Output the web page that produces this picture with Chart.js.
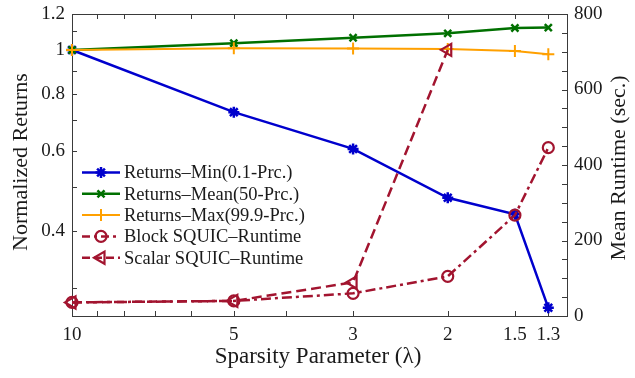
<!DOCTYPE html>
<html><head><meta charset="utf-8">
<script src="https://cdn.jsdelivr.net/npm/chart.js@4.4.0/dist/chart.umd.min.js"></script>
<style>html,body{margin:0;padding:0;background:#fff;} #wrap{width:635px;height:378px;}</style>
</head><body><div id="wrap"><canvas id="c" width="635" height="378"></canvas></div>
<script>
// ---- data ----
const lambdas = [10, 5, 3, 2, 1.5, 1.3];
const scalarLambdas = [10, 5, 3, 2];
const returnsMin = [1.0, 0.73, 0.606, 0.473, 0.435, 0.271];
const returnsMean = [1.0, 1.035, 1.064, 1.088, 1.118, 1.12];
const returnsMax = [1.0, 1.009, 1.008, 1.005, 0.995, 0.979];
const blockRuntime = [36, 40, 60, 105, 267, 446];
const scalarRuntime = [36, 40, 89, 705];
const seriesNames = ['Returns\u2013Min(0.1-Prc.)', 'Returns\u2013Mean(50-Prc.)', 'Returns\u2013Max(99.9-Prc.)', 'Block SQUIC\u2013Runtime', 'Scalar SQUIC\u2013Runtime'];
const xTickValues = [10, 9, 8, 7, 6, 5, 4, 3, 2, 1.5, 1.3];
const xTickLabels = ['10', '5', '3', '2', '1.5', '1.3'];
const yLeftTickValues = [0.3, 0.4, 0.5, 0.6, 0.7, 0.8, 0.9, 1, 1.1, 1.2];
const yLeftTickLabels = ['0.4', '0.6', '0.8', '1', '1.2'];
const yRightTickLabels = ['0', '200', '400', '600', '800'];
const xTitle = 'Sparsity Parameter (\u03bb)';
const yLeftTitle = 'Normalized Returns';
const yRightTitle = 'Mean Runtime (sec.)';

const FONT = "'Liberation Serif', 'Times New Roman', serif";
const AX = '#3a3a3a';
const TXT = '#1a1a1a';
const RED = 'rgb(162,20,47)';

function pts(xs, ys) { return xs.map((x, i) => ({x: x, y: ys[i]})); }

const datasets = [
  {label: seriesNames[0], data: pts(lambdas, returnsMin), yAxisID: 'y', borderColor: 'rgb(0,0,205)', borderWidth: 2.5,
   pointStyle: 'star', pointRadius: 5.5, pointBorderWidth: 2.5, pointBorderColor: 'rgb(0,0,205)', pointBackgroundColor: 'rgb(0,0,205)', order: 4},
  {label: seriesNames[1], data: pts(lambdas, returnsMean), yAxisID: 'y', borderColor: 'rgb(0,112,0)', borderWidth: 2.5,
   pointStyle: 'crossRot', pointRadius: 5, pointBorderWidth: 2.5, pointBorderColor: 'rgb(0,112,0)', order: 3},
  {label: seriesNames[2], data: pts(lambdas, returnsMax), yAxisID: 'y', borderColor: 'rgb(255,160,0)', borderWidth: 2,
   pointStyle: 'cross', pointRadius: 6, pointBorderWidth: 2, pointBorderColor: 'rgb(255,160,0)', order: 2},
  {label: seriesNames[3], data: pts(lambdas, blockRuntime), yAxisID: 'y2', borderColor: RED, borderWidth: 2.5, borderDash: [10, 4, 3, 4],
   pointStyle: 'circle', pointRadius: 5.5, pointBorderWidth: 2.2, pointBorderColor: RED, pointBackgroundColor: 'rgba(0,0,0,0)', order: 1},
  {label: seriesNames[4], data: pts(scalarLambdas, scalarRuntime), yAxisID: 'y2', borderColor: RED, borderWidth: 2.5, borderDash: [10, 5],
   pointStyle: 'triangle', pointRotation: -90, pointRadius: 7, pointBorderWidth: 2.2, pointBorderColor: RED, pointBackgroundColor: 'rgba(0,0,0,0)', order: 0}
];
datasets.forEach(d => { d.xAxisID = 'x'; d.tension = 0; d.fill = false; d.clip = false; });

function gridOpts() { return {drawOnChartArea: false, drawTicks: true, tickLength: 7, tickColor: 'rgba(0,0,0,0)', color: AX, lineWidth: 1}; }
function borderOpts() { return {display: true, color: AX, width: 1}; }
const tickFont = {family: FONT, size: 19};

// inward tick marks, placed with each scale's own pixel mapping
const innerTicksPlugin = {
  id: 'innerTicks',
  beforeDatasetsDraw(chart) {
    const ctx = chart.ctx, a = chart.chartArea, L = 5;
    ctx.save();
    ctx.strokeStyle = AX; ctx.lineWidth = 1;
    ctx.beginPath();
    ['x', 'x2', 'y', 'y2'].forEach(id => {
      const s = chart.scales[id];
      s.ticks.forEach(t => {
        const p = Math.round(s.getPixelForValue(t.value)) + 0.5;
        if (id === 'x') { ctx.moveTo(p, a.bottom); ctx.lineTo(p, a.bottom - L); }
        else if (id === 'x2') { ctx.moveTo(p, a.top); ctx.lineTo(p, a.top + L); }
        else if (id === 'y') { ctx.moveTo(a.left, p); ctx.lineTo(a.left + L, p); }
        else { ctx.moveTo(a.right, p); ctx.lineTo(a.right - L, p); }
      });
    });
    ctx.stroke();
    ctx.restore();
  }
};

const legendPlugin = {
  id: 'inlineLegend',
  afterDraw(chart) {
    const ctx = chart.ctx;
    const x1 = 82, x2 = 120, tx = 124, y0 = 172.5, dy = 21.3;
    chart.data.datasets.forEach((ds, i) => {
      const y = y0 + i * dy;
      ctx.save();
      ctx.strokeStyle = ds.borderColor; ctx.lineWidth = ds.borderWidth;
      ctx.setLineDash([]);
      if (ds.borderDash && ds.borderDash.length === 4) ctx.setLineDash([8, 4, 3, 4]);
      else if (ds.borderDash) ctx.setLineDash([8, 4]);
      ctx.beginPath(); ctx.moveTo(x1, y); ctx.lineTo(x2, y); ctx.stroke();
      ctx.setLineDash([]);
      ctx.strokeStyle = ds.pointBorderColor; ctx.fillStyle = ds.pointBackgroundColor || ds.pointBorderColor;
      ctx.lineWidth = ds.pointBorderWidth;
      Chart.helpers.drawPoint(ctx, {pointStyle: ds.pointStyle, radius: ds.pointRadius, rotation: ds.pointRotation || 0, borderWidth: ds.pointBorderWidth},
        (x1 + x2) / 2, y);
      ctx.restore();
      ctx.save();
      ctx.fillStyle = TXT; ctx.font = '18.5px ' + FONT; ctx.textBaseline = 'middle'; ctx.textAlign = 'left';
      ctx.fillText(ds.label, tx, y + 1);
      ctx.restore();
    });
  }
};

const titlesPlugin = {
  id: 'axisTitles',
  afterDraw(chart) {
    const ctx = chart.ctx;
    ctx.save();
    ctx.fillStyle = TXT; ctx.textAlign = 'center'; ctx.textBaseline = 'middle';
    ctx.font = '23px ' + FONT;
    ctx.fillText(xTitle, 318, 357);
    ctx.font = '22px ' + FONT;
    ctx.save(); ctx.translate(21, 162); ctx.rotate(-Math.PI / 2); ctx.fillText(yLeftTitle, 0, 0); ctx.restore();
    ctx.save(); ctx.translate(619, 168); ctx.rotate(-Math.PI / 2); ctx.fillText(yRightTitle, 0, 0); ctx.restore();
    ctx.restore();
  }
};

const xScaleBase = {
  type: 'logarithmic', min: 1.2, max: 10, reverse: true, bounds: 'data',
  afterBuildTicks: s => { s.ticks = xTickValues.map(v => ({value: v})); },
  grid: gridOpts(), border: borderOpts()
};

const chart = new Chart(document.getElementById('c'), {
  type: 'line',
  data: {datasets: datasets},
  options: {
    responsive: false, animation: false, devicePixelRatio: 1,
    layout: {padding: 0},
    plugins: {legend: {display: false}, tooltip: {enabled: false}},
    scales: {
      x: Object.assign({}, xScaleBase, {
        position: 'bottom',
        ticks: {autoSkip: false, maxRotation: 0, padding: 1, color: TXT, font: tickFont,
          callback: v => xTickLabels.includes(String(v)) ? String(v) : ''},
        afterFit: s => { s.height = 62; }
      }),
      x2: Object.assign({}, xScaleBase, {
        position: 'top', grid: gridOpts(), border: borderOpts(),
        ticks: {display: false},
        afterFit: s => { s.height = 14; }
      }),
      y: {
        type: 'logarithmic', position: 'left', min: 0.26, max: 1.2, bounds: 'data',
        afterBuildTicks: s => { s.ticks = yLeftTickValues.map(v => ({value: v})); },
        ticks: {autoSkip: false, padding: 0, color: TXT, font: tickFont,
          callback: v => yLeftTickLabels.includes(String(v)) ? String(v) : ''},
        grid: gridOpts(), border: borderOpts(),
        afterFit: s => { s.width = 72; }
      },
      y2: {
        type: 'linear', position: 'right', min: 0, max: 800,
        ticks: {stepSize: 50, autoSkip: false, padding: 0, color: TXT, font: tickFont,
          callback: v => yRightTickLabels.includes(String(v)) ? String(v) : ''},
        grid: gridOpts(), border: borderOpts(),
        afterFit: s => { s.width = 68; }
      }
    }
  },
  plugins: [innerTicksPlugin, legendPlugin, titlesPlugin]
});
</script></body></html>
